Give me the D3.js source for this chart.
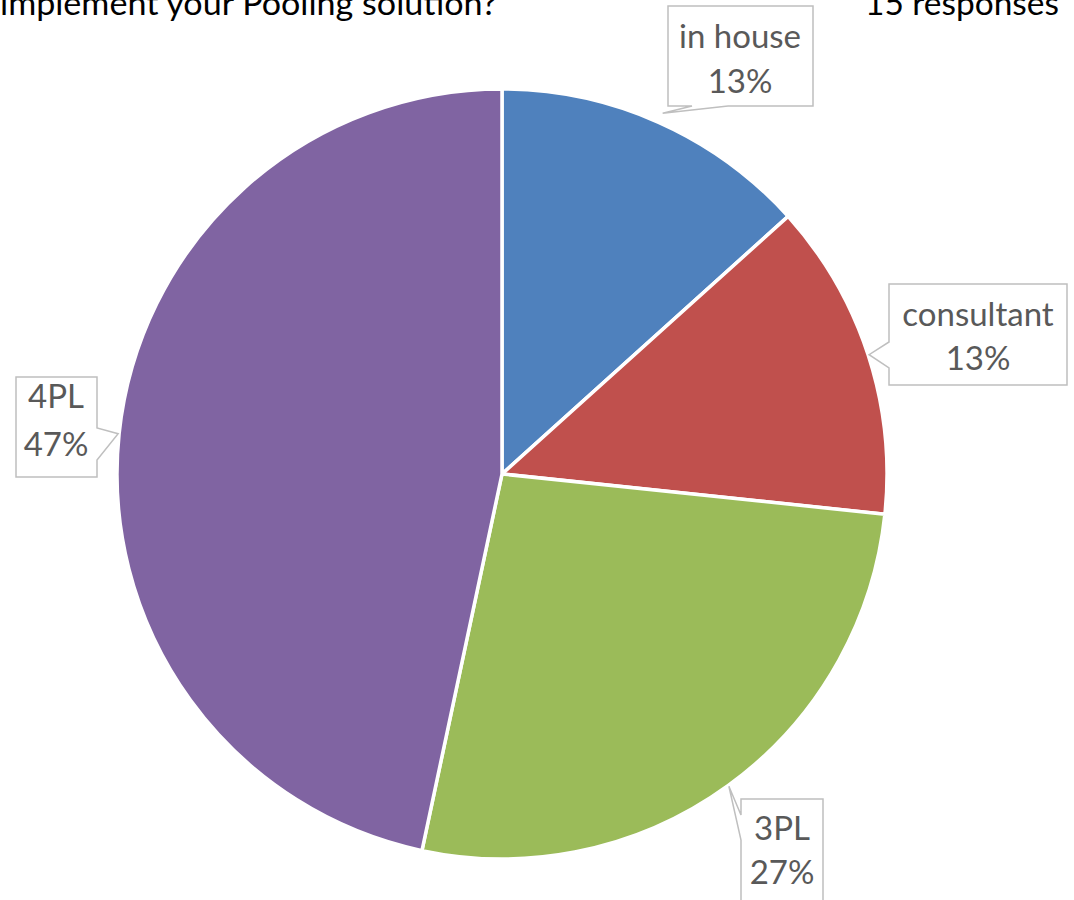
<!DOCTYPE html>
<html>
<head>
<meta charset="utf-8">
<script src="https://cdn.jsdelivr.net/npm/d3@7"></script>
<style>
  html, body { margin: 0; padding: 0; background: #fff; }
  svg { display: block; }
</style>
</head>
<body>
<svg id="chart" width="1074" height="900"></svg>
<script>
// Survey answers (15 responses)
const categories = ["in house", "consultant", "3PL", "4PL"];
const counts = [2, 2, 4, 7];
const sliceColors = ["#4F81BD", "#C0504D", "#9BBB59", "#8064A2"];
const titleText = "implement your Pooling solution?";
const responsesText = "15 responses";

const W = 1074, H = 900;
const cx = 502, cy = 474, R = 385;
const font = "Lato, 'Open Sans', sans-serif";

const svg = d3.select("#chart");

// Heading pieces along the top edge
svg.append("text")
  .attr("x", 0).attr("y", 15)
  .attr("font-family", font).attr("font-size", 33)
  .attr("fill", "#000")
  .attr("textLength", 497).attr("lengthAdjust", "spacingAndGlyphs")
  .text(titleText);

svg.append("text")
  .attr("x", 1059).attr("y", 15)
  .attr("text-anchor", "end")
  .attr("font-family", font).attr("font-size", 33)
  .attr("fill", "#000")
  .attr("textLength", 194).attr("lengthAdjust", "spacingAndGlyphs")
  .text(responsesText);

const total = d3.sum(counts);
const pie = d3.pie().sort(null).value(d => d.count);
const data = categories.map((c, i) => ({ name: c, count: counts[i], color: sliceColors[i] }));
const arcs = pie(data);

const arc = d3.arc().innerRadius(0).outerRadius(R);

const g = svg.append("g").attr("transform", `translate(${cx},${cy})`);
g.selectAll("path.slice")
  .data(arcs)
  .join("path")
  .attr("class", "slice")
  .attr("d", arc)
  .attr("fill", d => d.data.color)
  .attr("stroke", "#fff")
  .attr("stroke-width", 3.5)
  .attr("stroke-linejoin", "round");

// Callout boxes: box rectangle, side that carries the pointer, pointer base span, tip radius
const callouts = [
  { box: [668, 6, 145, 100], side: "bottom", base: [692, 728], tipR: R + 10, text1: [740, 48], text2: [740, 93] },
  { box: [889, 284, 178, 101], side: "left", base: [342, 368], tipR: R + 1, text1: [978, 326], text2: [978, 370] },
  { box: [741, 799, 82, 110], side: "left", base: [815, 840], tipR: R + 1, text1: [782, 840], text2: [782, 884] },
  { box: [16, 377, 81, 100], side: "right", base: [428, 460], tipR: R + 1, text1: [56, 408], text2: [56, 456] }
];

function calloutPath(c, tip) {
  const [x, y, w, h] = c.box;
  const p = d3.path();
  p.moveTo(x, y);
  p.lineTo(x + w, y);
  if (c.side === "right") {
    p.lineTo(x + w, c.base[0]);
    p.lineTo(tip[0], tip[1]);
    p.lineTo(x + w, c.base[1]);
  }
  p.lineTo(x + w, y + h);
  if (c.side === "bottom") {
    p.lineTo(c.base[1], y + h);
    p.lineTo(tip[0], tip[1]);
    p.lineTo(c.base[0], y + h);
  }
  p.lineTo(x, y + h);
  if (c.side === "left") {
    p.lineTo(x, c.base[1]);
    p.lineTo(tip[0], tip[1]);
    p.lineTo(x, c.base[0]);
  }
  p.closePath();
  return p.toString();
}

arcs.forEach((a, i) => {
  const c = callouts[i];
  const mid = (a.startAngle + a.endAngle) / 2;
  const tip = [cx + c.tipR * Math.sin(mid), cy - c.tipR * Math.cos(mid)];
  svg.append("path")
    .attr("d", calloutPath(c, tip))
    .attr("fill", "#fff")
    .attr("stroke", "#BFBFBF")
    .attr("stroke-width", 1.5);
  const pct = Math.round(a.data.count / total * 100) + "%";
  svg.append("text")
    .attr("x", c.text1[0]).attr("y", c.text1[1])
    .attr("text-anchor", "middle")
    .attr("font-family", font).attr("font-size", 33)
    .attr("fill", "#595959")
    .text(a.data.name);
  svg.append("text")
    .attr("x", c.text2[0]).attr("y", c.text2[1])
    .attr("text-anchor", "middle")
    .attr("font-family", font).attr("font-size", 33)
    .attr("fill", "#595959")
    .text(pct);
});
</script>
</body>
</html>
